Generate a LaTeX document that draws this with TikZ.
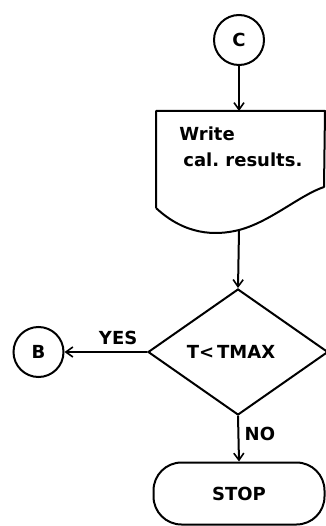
\documentclass[tikz,border=0pt]{standalone}
\usepackage{fontspec}
\setmainfont{DejaVu Sans}
\usetikzlibrary{shapes.geometric,arrows.meta}
\begin{document}
\begin{tikzpicture}[x=1pt,y=-1pt,
  line width=2pt,
  lbl/.style={font=\fontsize{18}{21}\selectfont\bfseries},
  conn/.style={circle,draw,minimum size=50pt,inner sep=0pt,lbl},
  flow/.style={-{Straight Barb[length=7pt,width=10pt,line width=1.6pt]}}]
\useasboundingbox (0,0) rectangle (325,526);
% connector C
\node[conn] (C) at (239,40) {C};
% document
\node[minimum width=167pt,minimum height=95pt,inner sep=0pt] (doc) at (240.5,159.5) {};
\draw[line join=round] (doc.south west) -- (doc.north west) -- (doc.north east) -- (324,187)
  .. controls (300,195) and (270,222) .. (239,230)
  .. controls (215,236) and (185,235) .. (doc.south west);
\coordinate (docb) at (239,230);
\node[lbl,anchor=west] (w1) at (175,134) {Write};
\node[lbl,anchor=west] (w2) at (179,160) {cal.\ results.};
% decision
\node[diamond,draw,minimum width=180pt,minimum height=126pt,inner sep=0pt] (dec) at (238,352) {};
\node[lbl] (cond) at (231,352) {T<\,TMAX};
% connector B
\node[conn] (B) at (38.5,352) {B};
% terminal
\node[draw,rectangle,rounded corners=28pt,minimum width=171pt,minimum height=62pt,lbl] (stop) at (239,493.5) {STOP};
% connectors
\draw[flow] (C) -- (C|-doc.north);
\draw[flow] (docb) -- (dec.north);
\draw[flow] (dec.west) -- node[lbl,above=3pt,pos=0.35] (yes) {YES} (B.east);
\draw[flow] (dec.south) -- node[lbl,right=2pt,pos=0.4] (no) {NO} (stop.north);
\end{tikzpicture}
\end{document}
